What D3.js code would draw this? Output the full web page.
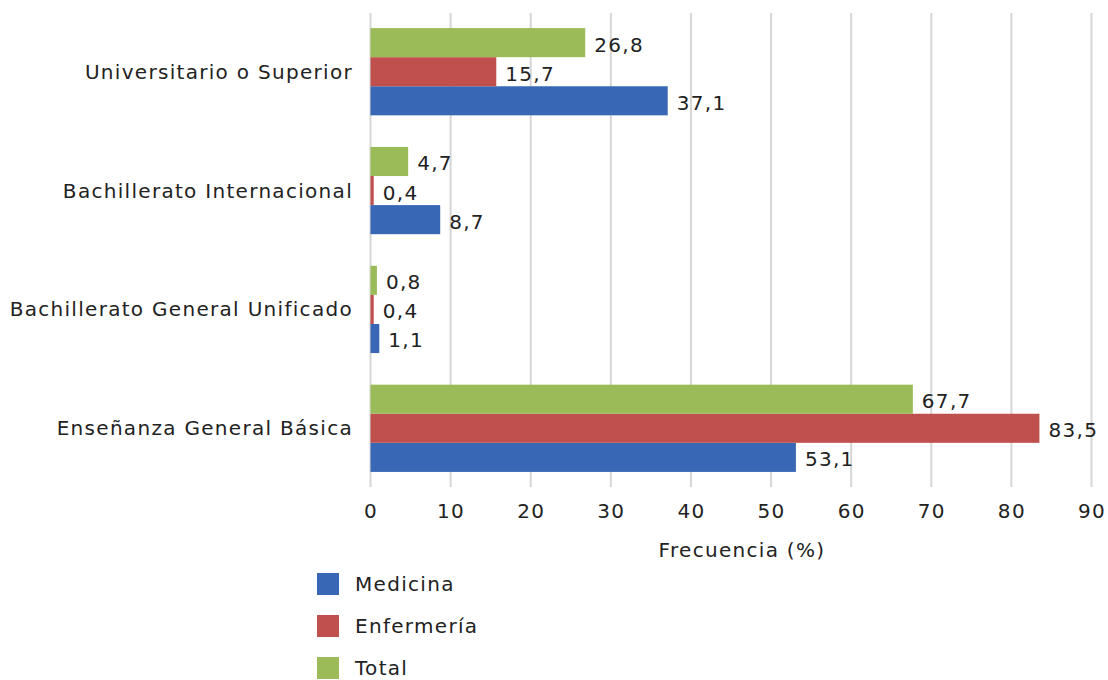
<!DOCTYPE html>
<html>
<head>
<meta charset="utf-8">
<script src="https://cdn.jsdelivr.net/npm/d3@7"></script>
<style>
  body { margin: 0; background: #fff; }
  text { font-family: "DejaVu Sans", Verdana, sans-serif; fill: #222; }
</style>
</head>
<body>
<div id="chart"></div>
<script>
const categories = ["Universitario o Superior", "Bachillerato Internacional", "Bachillerato General Unificado", "Enseñanza General Básica"];
const seriesNames = ["Medicina", "Enfermería", "Total"];
const medicina = [37.1, 8.7, 1.1, 53.1];
const enfermeria = [15.7, 0.4, 0.4, 83.5];
const total = [26.8, 4.7, 0.8, 67.7];
const xTicks = [0, 10, 20, 30, 40, 50, 60, 70, 80, 90];
const colors = {"Medicina": "#3767b5", "Enfermería": "#c0504d", "Total": "#9bbb59"};

const width = 1108, height = 680;
const plot = {left: 370.5, right: 1091.5, top: 13, bottom: 487};
const fontSize = 20;
const spacing = "1.3px";

const svg = d3.select("#chart").append("svg")
    .attr("width", width)
    .attr("height", height);

const x = d3.scaleLinear().domain([0, 90]).range([plot.left, plot.right]);
const y = d3.scaleBand().domain(categories).range([plot.top, plot.bottom])
    .paddingInner(0.266).paddingOuter(0.127);
// top to bottom inside a group: Total, Enfermería, Medicina
const ySub = d3.scaleBand().domain(["Total", "Enfermería", "Medicina"]).range([0, y.bandwidth()]);

const values = {"Medicina": medicina, "Enfermería": enfermeria, "Total": total};

// grid lines
svg.append("g").selectAll("line")
    .data(xTicks)
    .join("line")
    .attr("x1", d => x(d)).attr("x2", d => x(d))
    .attr("y1", plot.top).attr("y2", plot.bottom)
    .style("stroke", "#d6d6d6")
    .style("stroke-width", 2);

// x axis labels
const xAxis = svg.append("g")
    .attr("transform", "translate(0," + plot.bottom + ")")
    .call(d3.axisBottom(x).tickValues(xTicks).tickSize(0).tickPadding(17));
xAxis.select(".domain").remove();
xAxis.selectAll("text")
    .attr("font-size", fontSize)
    .style("font-family", "DejaVu Sans, Verdana, sans-serif")
    .style("letter-spacing", spacing)
    .attr("fill", "#222");

// bars
const groups = svg.append("g").selectAll("g")
    .data(categories)
    .join("g")
    .attr("transform", d => "translate(0," + y(d) + ")");

seriesNames.forEach(function (name) {
    groups.append("rect")
        .attr("x", x(0))
        .attr("y", ySub(name))
        .attr("width", (d, i) => x(values[name][i]) - x(0))
        .attr("height", ySub.bandwidth())
        .style("fill", colors[name]);

    groups.append("text")
        .attr("x", (d, i) => x(values[name][i]) + 9)
        .attr("y", ySub(name) + ySub.bandwidth() / 2 + 2)
        .attr("dy", "0.35em")
        .attr("font-size", fontSize)
        .style("letter-spacing", spacing)
        .text((d, i) => d3.format(".1f")(values[name][i]).replace(".", ","));
});

// category labels
svg.append("g").selectAll("text")
    .data(categories)
    .join("text")
    .attr("x", 353)
    .attr("y", d => y(d) + y.bandwidth() / 2)
    .attr("dy", "0.35em")
    .attr("text-anchor", "end")
    .attr("font-size", fontSize)
    .style("letter-spacing", spacing)
    .text(d => d);

// axis title
svg.append("text")
    .attr("x", 742)
    .attr("y", 550)
    .attr("dy", "0.35em")
    .attr("text-anchor", "middle")
    .attr("font-size", fontSize)
    .style("letter-spacing", spacing)
    .text("Frecuencia (%)");

// legend
const legend = svg.append("g").selectAll("g")
    .data(seriesNames)
    .join("g")
    .attr("transform", (d, i) => "translate(317," + (573 + i * 42) + ")");

legend.append("rect")
    .attr("width", 22)
    .attr("height", 22)
    .style("fill", d => colors[d]);

legend.append("text")
    .attr("x", 38)
    .attr("y", 11)
    .attr("dy", "0.35em")
    .attr("font-size", fontSize)
    .style("letter-spacing", spacing)
    .text(d => d);
</script>
</body>
</html>
